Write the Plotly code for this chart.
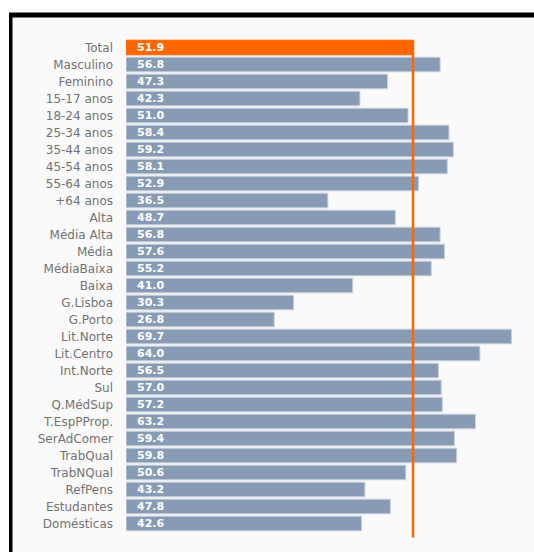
import plotly.graph_objects as go

# Category labels (top to bottom) and their percentages
categories = [
    "Total", "Masculino", "Feminino", "15-17 anos", "18-24 anos", "25-34 anos",
    "35-44 anos", "45-54 anos", "55-64 anos", "+64 anos", "Alta", "Média Alta",
    "Média", "MédiaBaixa", "Baixa", "G.Lisboa", "G.Porto", "Lit.Norte",
    "Lit.Centro", "Int.Norte", "Sul", "Q.MédSup", "T.EspPProp.", "SerAdComer",
    "TrabQual", "TrabNQual", "RefPens", "Estudantes", "Domésticas",
]
values = [
    51.9, 56.8, 47.3, 42.3, 51.0, 58.4, 59.2, 58.1, 52.9, 36.5, 48.7, 56.8,
    57.6, 55.2, 41.0, 30.3, 26.8, 69.7, 64.0, 56.5, 57.0, 57.2, 63.2, 59.4,
    59.8, 50.6, 43.2, 47.8, 42.6,
]

ORANGE = "#ff6600"
BLUE = "#879bb4"
total_value = values[0]

W, H = 534, 552
fig = go.Figure()
fig.add_trace(go.Bar(
    y=categories,
    x=values,
    orientation="h",
    marker=dict(
        color=[ORANGE] + [BLUE] * (len(values) - 1),
        line=dict(color=["#ff6600"] + ["#c9d1dc"] * (len(values) - 1), width=1),
    ),
    hoverinfo="skip",
))

# value labels at the start of each bar
for cat, v in zip(categories, values):
    fig.add_annotation(
        x=0, y=cat, xref="x", yref="y",
        text=f"{v:.1f}", showarrow=False,
        xanchor="left", xshift=9,
        font=dict(family="DejaVu Sans", size=11, color="white", weight="bold"),
    )

ml, mr, mt, mb = 126, 9, 38.5, 19.5
pw, ph = W - ml - mr, H - mt - mb


def px_x(p):
    return (p - ml) / pw


def px_y(p):
    return 1 - (p - mt) / ph


shapes = [
    # framed panel background
    dict(type="rect", xref="paper", yref="paper", layer="below",
         x0=px_x(9), x1=px_x(W + 20), y0=px_y(H + 20), y1=px_y(12),
         fillcolor="black", line=dict(width=0)),
    dict(type="rect", xref="paper", yref="paper", layer="below",
         x0=px_x(12.5), x1=px_x(W + 20), y0=px_y(H + 20), y1=px_y(17),
         fillcolor="#fafafa", line=dict(width=0)),
    # reference line at the overall total
    dict(type="line", xref="x", yref="paper",
         x0=total_value, x1=total_value, y0=px_y(538), y1=px_y(40),
         line=dict(color=ORANGE, width=2.5)),
]

fig.update_layout(
    width=W, height=H,
    margin=dict(l=ml, r=mr, t=mt, b=mb, pad=0),
    paper_bgcolor="white",
    plot_bgcolor="rgba(0,0,0,0)",
    bargap=0.14,
    showlegend=False,
    shapes=shapes,
    xaxis=dict(range=[0, pw / 5.53], visible=False, fixedrange=True),
    yaxis=dict(
        autorange=False, range=[len(categories) - 0.5, -0.5],
        showgrid=False, zeroline=False, showline=False, ticks="",
        ticklabelstandoff=12,
        tickfont=dict(family="DejaVu Sans", size=12, color="#727272"),
        fixedrange=True,
    ),
)

fig.write_html("out.html")
